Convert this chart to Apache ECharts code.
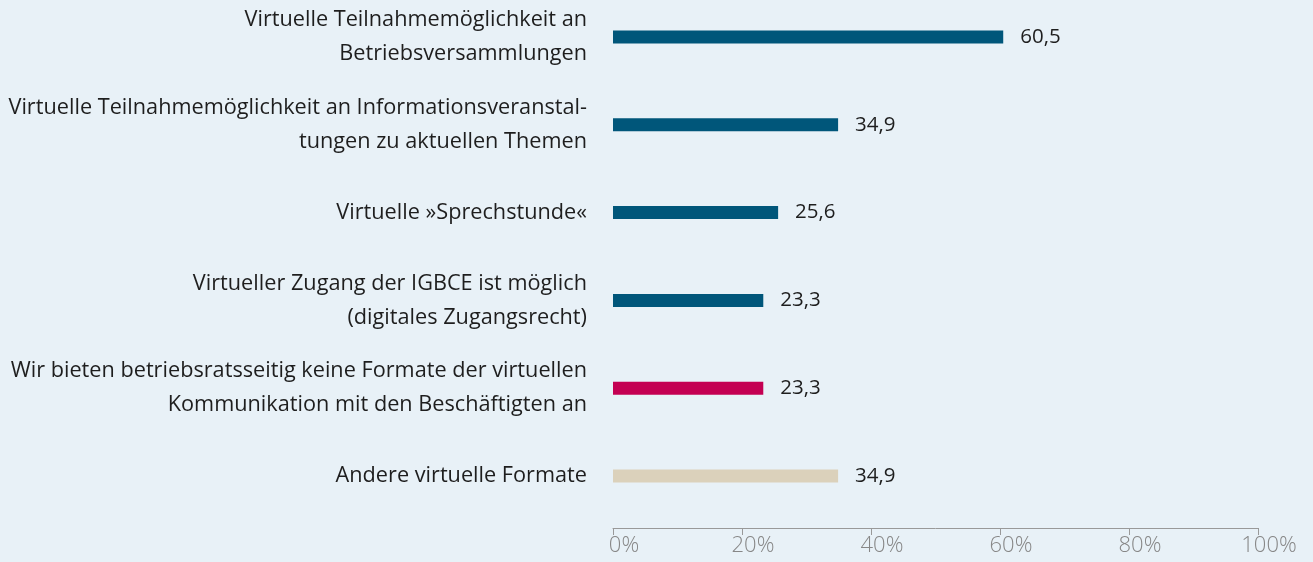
<!DOCTYPE html>
<html><head><meta charset="utf-8">
<script src="https://cdn.jsdelivr.net/npm/echarts@6/dist/echarts.min.js"></script>
<style>html,body{margin:0;padding:0;background:#e8f1f7;}#c{width:1313px;height:562px;}</style>
</head><body><div id="c"></div>
<script>
const categories = [
  "Virtuelle Teilnahmemöglichkeit an\nBetriebsversammlungen",
  "Virtuelle Teilnahmemöglichkeit an Informationsveranstal-\ntungen zu aktuellen Themen",
  "Virtuelle »Sprechstunde«",
  "Virtueller Zugang der IGBCE ist möglich\n(digitales Zugangsrecht)",
  "Wir bieten betriebsratsseitig keine Formate der virtuellen\nKommunikation mit den Beschäftigten an",
  "Andere virtuelle Formate"
];
const values = [60.5, 34.9, 25.6, 23.3, 23.3, 34.9];
const barColors = ["#00567a", "#00567a", "#00567a", "#00567a", "#c40052", "#dbd1bb"];
const xTicks = [0, 20, 40, 60, 80, 100];

const chart = echarts.init(document.getElementById('c'));
chart.setOption({
  backgroundColor: '#e8f1f7',
  animation: false,
  grid: { left: 613, right: 55, top: 37, bottom: 86, containLabel: false, outerBoundsMode: 'none' },
  xAxis: {
    type: 'value', min: 0, max: 100, interval: 20, offset: 52,
    axisLine: { show: true, lineStyle: { color: '#999999', width: 1 } },
    axisTick: { show: true, length: 7, lineStyle: { color: '#999999' } },
    splitLine: { show: false },
    axisLabel: {
      formatter: v => v + '%', color: '#878787', fontSize: 22,
      fontFamily: 'Open Sans', fontWeight: 300, margin: 7,
      padding: [0, 0, 0, 22]
    }
  },
  yAxis: {
    type: 'category', data: categories, inverse: true, boundaryGap: false,
    axisLine: { show: false }, axisTick: { show: false },
    axisLabel: {
      color: '#1e1e1e', fontSize: 21.7, fontFamily: 'Open Sans', fontWeight: 400,
      lineHeight: 34, margin: 26, align: 'right', padding: [5, 0, 0, 0]
    }
  },
  series: [{
    type: 'bar', barWidth: 13,
    data: values.map((v, i) => ({ value: v, itemStyle: { color: barColors[i] } })),
    label: {
      show: true, position: 'right', distance: 17,
      formatter: p => String(p.value).replace('.', ','),
      color: '#1e1e1e', fontSize: 20.5, fontFamily: 'Open Sans', fontWeight: 400
    }
  }]
});
</script></body></html>
